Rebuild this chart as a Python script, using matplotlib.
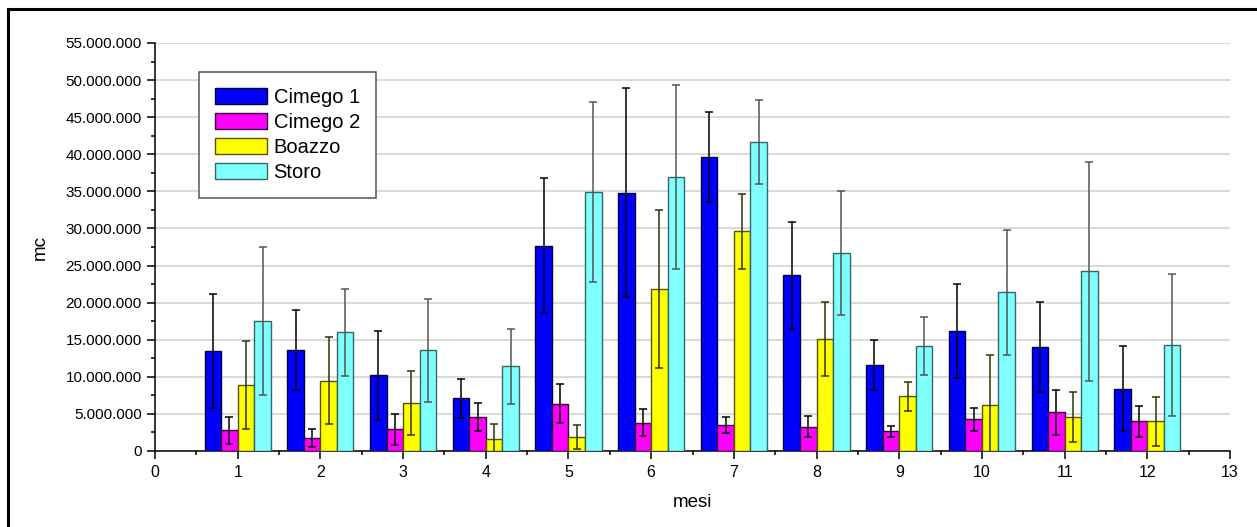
import matplotlib
matplotlib.use("Agg")
import matplotlib.pyplot as plt
import matplotlib.ticker as mticker
from matplotlib.patches import Rectangle
import numpy as np

plt.rcParams['font.family'] = ['Liberation Sans', 'DejaVu Sans']

months = [1, 2, 3, 4, 5, 6, 7, 8, 9, 10, 11, 12]
series_names = ["Cimego 1", "Cimego 2", "Boazzo", "Storo"]

cimego1 = [13.5, 13.6, 10.2, 7.1, 27.7, 34.8, 39.6, 23.7, 11.6, 16.2, 14.0, 8.4]
cimego1_err = [7.7, 5.4, 6.0, 2.65, 9.1, 14.1, 6.1, 7.2, 3.4, 6.3, 6.05, 5.7]
cimego2 = [2.8, 1.7, 2.9, 4.6, 6.4, 3.8, 3.5, 3.3, 2.65, 4.3, 5.2, 4.0]
cimego2_err = [1.8, 1.2, 2.1, 1.9, 2.6, 1.8, 1.1, 1.4, 0.7, 1.55, 3.0, 2.1]
boazzo = [8.9, 9.5, 6.5, 1.6, 1.9, 21.85, 29.6, 15.1, 7.4, 6.2, 4.6, 4.0]
boazzo_err = [5.9, 5.9, 4.3, 2.0, 1.6, 10.6, 5.0, 5.0, 1.95, 6.7, 3.4, 3.3]
storo = [17.5, 16.0, 13.55, 11.4, 34.9, 37.0, 41.7, 26.7, 14.1, 21.4, 24.2, 14.3]
storo_err = [10.0, 5.9, 6.9, 5.0, 12.1, 12.4, 5.65, 8.4, 3.9, 8.4, 14.7, 9.6]

values = [cimego1, cimego2, boazzo, storo]
errors = [cimego1_err, cimego2_err, boazzo_err, storo_err]
fill_colors = ["#0000FF", "#FF00FF", "#FFFF00", "#80FFFF"]
edge_colors = ["#000033", "#330033", "#555500", "#336666"]
err_colors = ["#000000", "#000000", "#333300", "#555555"]
offsets = [-0.3, -0.1, 0.1, 0.3]
scale = 1e6

W, H = 1257, 527
fig = plt.figure(figsize=(W / 100, H / 100), dpi=100)
ax = fig.add_axes([155 / W, 1 - 451 / H, (1230 - 155) / W, (451 - 43) / H])

x = np.array(months, dtype=float)
for vals, errs, fc, ec, erc, off, name in zip(values, errors, fill_colors, edge_colors, err_colors, offsets, series_names):
    v = np.array(vals) * scale
    e = np.array(errs) * scale
    ax.bar(x + off, v, width=0.2, color=fc, edgecolor=ec, linewidth=1.0, label=name, zorder=3)
    ax.errorbar(x + off, v, yerr=e, fmt='none', ecolor=erc, elinewidth=1.1, capsize=3.2, capthick=1.1, zorder=4)

ax.set_xlim(0, 13)
ax.set_ylim(0, 55e6)
ax.xaxis.set_major_locator(mticker.MultipleLocator(1))
ax.xaxis.set_minor_locator(mticker.MultipleLocator(0.5))
ax.yaxis.set_major_locator(mticker.MultipleLocator(5e6))
ax.yaxis.set_minor_locator(mticker.MultipleLocator(2.5e6))
ax.yaxis.set_major_formatter(mticker.FuncFormatter(lambda v, p: f"{int(round(v)):,}".replace(",", ".")))

ax.tick_params(axis='both', which='major', direction='out', length=6, width=1.1, labelsize=11, color='black')
ax.tick_params(axis='x', which='major', labelsize=11.5, pad=4)
ax.tick_params(axis='both', which='minor', direction='out', length=3, width=1.1, color='black')

for s in ['top', 'right']:
    ax.spines[s].set_visible(False)
for s in ['left', 'bottom']:
    ax.spines[s].set_linewidth(1.1)

ax.yaxis.grid(True, which='major', color='#d9d9d9', linewidth=1.4, zorder=0)
ax.set_axisbelow(True)

ax.set_xlabel("mesi", fontsize=13.5, labelpad=10)
ax.set_ylabel("mc", fontsize=13.5, labelpad=12)

leg = ax.legend(loc='upper left', bbox_to_anchor=(199 / W, 1 - 72 / H), bbox_transform=fig.transFigure,
                fontsize=14.5, frameon=True, fancybox=False, shadow=False, borderpad=0.8,
                handlelength=2.6, handleheight=0.85, handletextpad=0.3, labelspacing=0.3,
                borderaxespad=0)
leg.get_frame().set_edgecolor('#555555')
leg.get_frame().set_linewidth(1.1)
leg.get_frame().set_alpha(1)

fig.patches.append(Rectangle((8 / W, -0.1), 1.2, 1 - 9 / H + 0.1, transform=fig.transFigure,
                             fill=False, edgecolor='black', linewidth=2.2, zorder=10))

fig.savefig("out.png", dpi=100)
